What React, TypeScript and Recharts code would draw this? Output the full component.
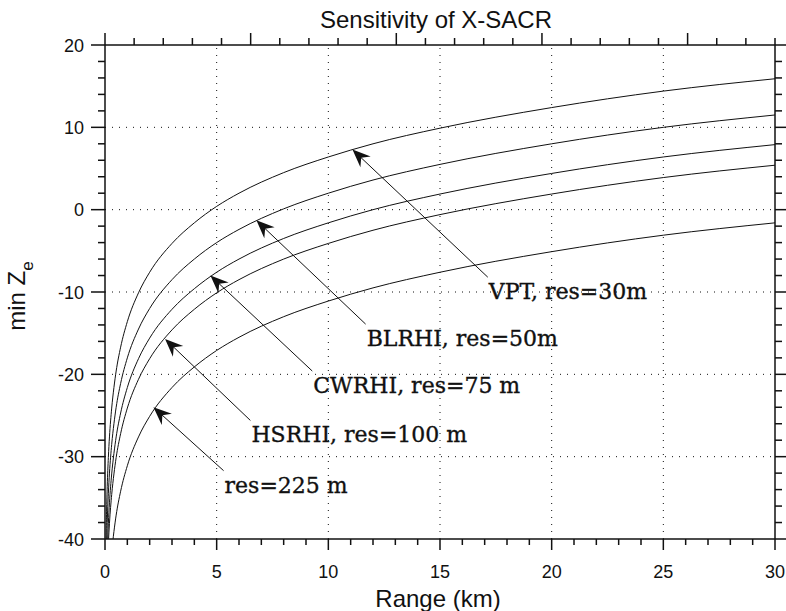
import React from 'react';
import { LineChart, Line, XAxis, YAxis, ReferenceLine } from 'recharts';

// Range (km) sample points and min Ze (dBZ)
const rangeKm = [0.04, 0.05, 0.07, 0.1, 0.15, 0.2, 0.3, 0.4, 0.5, 0.7, 1, 1.5, 2, 3, 4, 5, 6, 8, 10, 12, 15, 20, 25, 30];
const vptZe = [-41.6, -39.6, -36.7, -33.6, -30.1, -27.6, -24.1, -21.6, -19.6, -16.7, -13.6, -10.1, -7.6, -4.1, -1.6, 0.4, 2.0, 4.5, 6.4, 8.0, 9.9, 12.4, 14.4, 15.9];
const blrhiZe = [null, null, -41.1, -38.0, -34.5, -32.0, -28.5, -26.0, -24.0, -21.1, -18.0, -14.5, -12.0, -8.5, -6.0, -4.0, -2.4, 0.1, 2.0, 3.6, 5.5, 8.0, 10.0, 11.5];
const cwrhiZe = [null, null, null, -41.6, -38.1, -35.6, -32.1, -29.6, -27.6, -24.7, -21.6, -18.1, -15.6, -12.1, -9.6, -7.6, -6.0, -3.5, -1.6, 0.0, 1.9, 4.4, 6.4, 7.9];
const hsrhiZe = [null, null, null, -44.1, -40.6, -38.1, -34.6, -32.1, -30.1, -27.2, -24.1, -20.6, -18.1, -14.6, -12.1, -10.1, -8.5, -6.0, -4.1, -2.5, -0.6, 1.9, 3.9, 5.4];
const res225Ze = [null, null, null, null, null, -45.1, -41.6, -39.1, -37.1, -34.2, -31.1, -27.6, -25.1, -21.6, -19.1, -17.1, -15.5, -13.0, -11.1, -9.5, -7.6, -5.1, -3.1, -1.6];

const seriesKeys = ['vpt', 'blrhi', 'cwrhi', 'hsrhi', 'res225'];
const seriesValues = [vptZe, blrhiZe, cwrhiZe, hsrhiZe, res225Ze];

// Axis ticks
const xTicks = [0, 1, 2, 3, 4, 5, 6, 7, 8, 9, 10, 11, 12, 13, 14, 15, 16, 17, 18, 19, 20, 21, 22, 23, 24, 25, 26, 27, 28, 29, 30];
const yTicks = [-40, -38, -36, -34, -32, -30, -28, -26, -24, -22, -20, -18, -16, -14, -12, -10, -8, -6, -4, -2, 0, 2, 4, 6, 8, 10, 12, 14, 16, 18, 20];
const xGrid = [5, 10, 15, 20, 25];
const yGrid = [10, 0, -10, -20, -30];

// Annotations: label, arrow tail (range, Ze), arrow tip (range, Ze)
const annLabels = ['VPT, res=30m', 'BLRHI, res=50m', 'CWRHI, res=75 m', 'HSRHI, res=100 m', 'res=225 m'];
const annTail = [[17.14, -8.2], [11.67, -13.9], [9.28, -19.6], [6.51, -25.6], [5.31, -31.7]];
const annTip = [[11.08, 7.3], [6.78, -1.3], [4.72, -8.0], [2.69, -15.7], [2.17, -24.0]];

const rows = rangeKm.map((r, i) => {
  const row: any = { r };
  seriesKeys.forEach((k, j) => { row[k] = seriesValues[j][i]; });
  return row;
});

const INK = '#111';
const SANS = '"Liberation Sans", Arial, Helvetica, sans-serif';
const SERIF = '"DejaVu Serif", serif';

const BottomTick = (p: any) => {
  const v = p.payload.value;
  const major = v % 5 === 0;
  return (
    <g>
      <line x1={p.x} y1={p.y} x2={p.x} y2={p.y + (major ? 11 : 6)} stroke={INK} strokeWidth={1.5} />
      {major && (
        <text x={p.x} y={p.y + 39} textAnchor="middle" fontFamily={SANS} fontSize={18} fill={INK}>{v}</text>
      )}
    </g>
  );
};
const TopTick = (p: any) => {
  const v = p.payload.value;
  const major = v % 5 === 0;
  return <line x1={p.x} y1={p.y} x2={p.x} y2={p.y - (major ? 12 : 7)} stroke={INK} strokeWidth={1.5} />;
};
const LeftTick = (p: any) => {
  const v = p.payload.value;
  const major = v % 10 === 0;
  return (
    <g>
      <line x1={p.x} y1={p.y} x2={p.x - (major ? 14 : 7)} y2={p.y} stroke={INK} strokeWidth={1.5} />
      {major && (
        <text x={p.x - 21} y={p.y + 6.5} textAnchor="end" fontFamily={SANS} fontSize={18} fill={INK}>{v}</text>
      )}
    </g>
  );
};
const RightTick = (p: any) => {
  const v = p.payload.value;
  const major = v % 10 === 0;
  return <line x1={p.x} y1={p.y} x2={p.x + (major ? 11 : 7)} y2={p.y} stroke={INK} strokeWidth={1.5} />;
};

const makeArrow = (label: string) => (p: any) => {
  const { x1, y1, x2, y2 } = p;
  const dx = x2 - x1, dy = y2 - y1;
  const len = Math.sqrt(dx * dx + dy * dy) || 1;
  const ux = dx / len, uy = dy / len;
  const nx = -uy, ny = ux;
  const L = 18, W = 7.5, N = 12;
  const bx = x2 - L * ux, by = y2 - L * uy;
  const pts = [
    [x2, y2],
    [bx + W * nx, by + W * ny],
    [x2 - N * ux, y2 - N * uy],
    [bx - W * nx, by - W * ny],
  ].map((q) => q.join(',')).join(' ');
  return (
    <g>
      <line x1={x1} y1={y1} x2={x2 - 6 * ux} y2={y2 - 6 * uy} stroke={INK} strokeWidth={1} />
      <polygon points={pts} fill={INK} stroke="none" />
      <text x={x1 + 1} y={y1 + 22} fontFamily={SERIF} fontSize={22} fill={INK} stroke={INK} strokeWidth={0.35}>{label}</text>
    </g>
  );
};

const TitleLabel = (p: any) => {
  const vb = p.viewBox;
  return (
    <text x={vb.x + vb.width / 2 - 4} y={vb.y - 16} textAnchor="middle" fontFamily={SANS} fontSize={24} fill={INK}>
      Sensitivity of X-SACR
    </text>
  );
};
const XLabel = (p: any) => {
  const vb = p.viewBox;
  return (
    <text x={vb.x + vb.width / 2 - 2} y={vb.y + 68} textAnchor="middle" fontFamily={SANS} fontSize={24} fill={INK}>
      Range (km)
    </text>
  );
};
const YLabel = (p: any) => {
  const vb = p.viewBox;
  const cx = vb.x - 79;
  const cy = vb.y + vb.height / 2 + 4;
  return (
    <text x={cx} y={cy} transform={`rotate(-90, ${cx}, ${cy})`} textAnchor="middle" fontFamily={SANS} fontSize={24} fill={INK}>
      min Z<tspan dy={8} fontSize={17}>e</tspan>
    </text>
  );
};

export default function App() {
  return (
    <div style={{ position: 'absolute', left: 0, top: 0, width: 786, height: 611, background: '#fff' }}>
      <LineChart width={786} height={611} data={rows} margin={{ top: 44, right: 10, bottom: 71, left: 104 }}>
        <XAxis xAxisId="b" dataKey="r" type="number" domain={[0, 30]} ticks={xTicks} interval={0}
          allowDataOverflow height={1} tickSize={0} tickMargin={0} tickLine={false} tick={<BottomTick />}
          axisLine={{ stroke: INK, strokeWidth: 1.5 }} label={{ content: <XLabel /> }} />
        <XAxis xAxisId="t" orientation="top" type="number" domain={[0, 30]} ticks={xTicks} interval={0}
          allowDataOverflow height={1} tickSize={0} tickMargin={0} tickLine={false} tick={<TopTick />}
          axisLine={{ stroke: INK, strokeWidth: 1.5 }} label={{ content: <TitleLabel /> }} />
        <YAxis yAxisId="l" type="number" domain={[-40, 20]} ticks={yTicks} interval={0}
          allowDataOverflow width={1} tickSize={0} tickMargin={0} tickLine={false} tick={<LeftTick />}
          axisLine={{ stroke: INK, strokeWidth: 1.5 }} label={{ content: <YLabel /> }} />
        <YAxis yAxisId="r" orientation="right" type="number" domain={[-40, 20]} ticks={yTicks} interval={0}
          allowDataOverflow width={1} tickSize={0} tickMargin={0} tickLine={false} tick={<RightTick />}
          axisLine={{ stroke: INK, strokeWidth: 1.5 }} />
        {xGrid.map((g) => (
          <ReferenceLine key={'gx' + g} xAxisId="b" yAxisId="l" x={g} stroke={INK} strokeWidth={1} strokeDasharray="1 6" />
        ))}
        {yGrid.map((g) => (
          <ReferenceLine key={'gy' + g} xAxisId="b" yAxisId="l" y={g} stroke={INK} strokeWidth={1} strokeDasharray="1 6" />
        ))}
        {seriesKeys.map((k) => (
          <Line key={k} xAxisId="b" yAxisId="l" dataKey={k} type="monotone" stroke={INK} strokeWidth={1}
            dot={false} activeDot={false} isAnimationActive={false} />
        ))}
        {annLabels.map((lab, i) => (
          <ReferenceLine key={'a' + i} xAxisId="b" yAxisId="l"
            segment={[{ x: annTail[i][0], y: annTail[i][1] }, { x: annTip[i][0], y: annTip[i][1] }]}
            shape={makeArrow(lab)} />
        ))}
      </LineChart>
    </div>
  );
}
